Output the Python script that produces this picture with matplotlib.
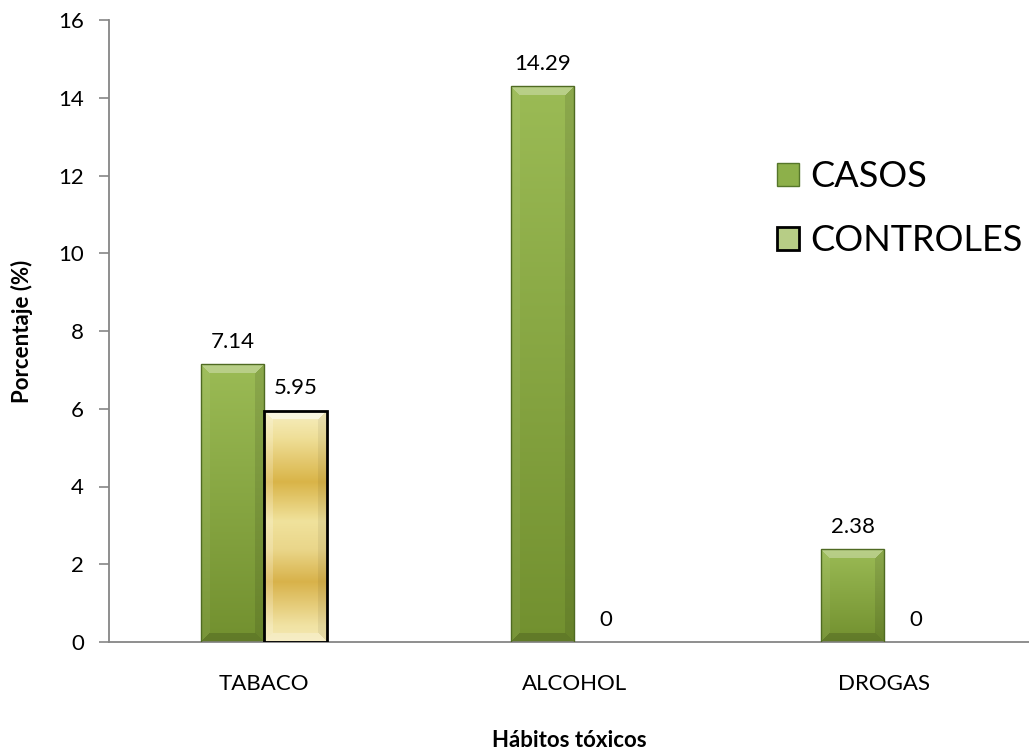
import numpy as np
import matplotlib
matplotlib.use("Agg")
import matplotlib.pyplot as plt
from matplotlib.patches import Patch
from matplotlib.colors import to_rgb

categories = ["TABACO", "ALCOHOL", "DROGAS"]
casos = [7.14, 14.29, 2.38]
controles = [5.95, 0, 0]
series_names = ["CASOS", "CONTROLES"]
yticks = [0, 2, 4, 6, 8, 10, 12, 14, 16]

plt.rcParams["font.family"] = ["Lato", "DejaVu Sans"]

fig = plt.figure(figsize=(10.29, 7.51), dpi=100)
ax = fig.add_axes([109 / 1029, 109 / 751, 920 / 1029, 622 / 751])
ax.set_xlim(-0.5, -0.5 + 920 / 310)
ax.set_ylim(0, 16)

x = np.arange(len(categories))
w = 0.203

b1 = ax.bar(x - w / 2, casos, w, facecolor="none", edgecolor="#4f6a22", linewidth=1.0, zorder=3)
b2 = ax.bar(x + w / 2, controles, w, facecolor="none", edgecolor="black", linewidth=2.0, zorder=3)
for bar in list(b1) + list(b2):
    if bar.get_height() <= 0:
        bar.set_linewidth(0)


def mix(c, other, t):
    return c * (1 - t) + np.array(other) * t


def bevel_image(hpx, wpx, body, shades, bevel=9):
    hpx = max(int(round(hpx)), 1)
    wpx = max(int(round(wpx)), 1)
    rel = (np.arange(hpx) + 0.5) / hpx
    img = np.zeros((hpx, wpx, 3))
    base = np.array([body(r) for r in rel])
    img[:] = base[:, None, :]
    ii, jj = np.mgrid[0:hpx, 0:wpx]
    d = np.stack([ii, hpx - 1 - ii, jj, wpx - 1 - jj])
    dmin = d.min(axis=0)
    which = d.argmin(axis=0)
    inside = dmin < bevel
    for k, (tgt, amt) in enumerate(shades):
        m = inside & (which == k)
        img[m] = img[m] * (1 - amt) + tgt * amt
    return img


def green_body(r):
    top = np.array(to_rgb("#9bbb55"))
    bot = np.array(to_rgb("#72902f"))
    return mix(top, bot, r)


green_shades = [(1.0, 0.30), (0.0, 0.15), (1.0, 0.05), (0.0, 0.10)]

gold_stops = [
    (0.0, "#f7efc2"),
    (0.12, "#efdf98"),
    (0.31, "#d9b448"),
    (0.48, "#f0e29c"),
    (0.60, "#ead68a"),
    (0.74, "#d8b24a"),
    (0.93, "#f1e3a4"),
    (1.0, "#f4e8b4"),
]
gold_shades = [(1.0, 0.55), (1.0, 0.25), (1.0, 0.20), (0.0, 0.06)]


def gold_body(r):
    ps = [p for p, _ in gold_stops]
    cs = np.array([to_rgb(c) for _, c in gold_stops])
    return np.array([np.interp(r, ps, cs[:, k]) for k in range(3)])


def paint(bars, body, shades):
    for bar in bars:
        h = bar.get_height()
        if h <= 0:
            continue
        x0, y0 = bar.get_x(), bar.get_y()
        x1, y1 = x0 + bar.get_width(), y0 + h
        p0 = ax.transData.transform((x0, y0))
        p1 = ax.transData.transform((x1, y1))
        img = bevel_image(abs(p1[1] - p0[1]), abs(p1[0] - p0[0]), body, shades)
        ax.imshow(img, extent=(x0, x1, y0, y1), origin="upper", aspect="auto",
                  interpolation="bilinear", zorder=2)


paint(b1, green_body, green_shades)
paint(b2, gold_body, gold_shades)
ax.set_xlim(-0.5, -0.5 + 920 / 310)
ax.set_ylim(0, 16)

for bars, vals in ((b1, casos), (b2, controles)):
    for bar, v in zip(bars, vals):
        label = "0" if v == 0 else f"{v:.2f}"
        ax.annotate(label, (bar.get_x() + bar.get_width() / 2, v),
                    xytext=(0, 16), textcoords="offset points",
                    ha="center", va="center", fontsize=16, color="black")

ax.set_xticks(x)
ax.set_xticklabels(categories, fontsize=16)
ax.set_yticks(yticks)
ax.set_yticklabels([str(t) for t in yticks], fontsize=16)
ax.tick_params(axis="x", length=0, pad=23)
ax.tick_params(axis="y", length=7, width=1.2, color="#868686", pad=11)
for s in ("top", "right"):
    ax.spines[s].set_visible(False)
for s in ("left", "bottom"):
    ax.spines[s].set_color("#868686")
    ax.spines[s].set_linewidth(1.3)

ax.set_ylabel("Porcentaje (%)", fontsize=16, fontweight="bold", labelpad=18)
ax.set_xlabel("Hábitos tóxicos", fontsize=16, fontweight="bold", labelpad=26)

handles = [
    Patch(facecolor="#8db04a", edgecolor="#55762a", linewidth=1.0),
    Patch(facecolor="#b7cd86", edgecolor="black", linewidth=2.0),
]
fig.legend(handles, series_names, loc="upper left", bbox_to_anchor=(763 / 1029, 1 - 146 / 751),
           fontsize=26, frameon=False, handlelength=0.6, handleheight=0.6,
           handletextpad=0.3, labelspacing=0.85, borderaxespad=0)

fig.savefig("out.png", dpi=100)
